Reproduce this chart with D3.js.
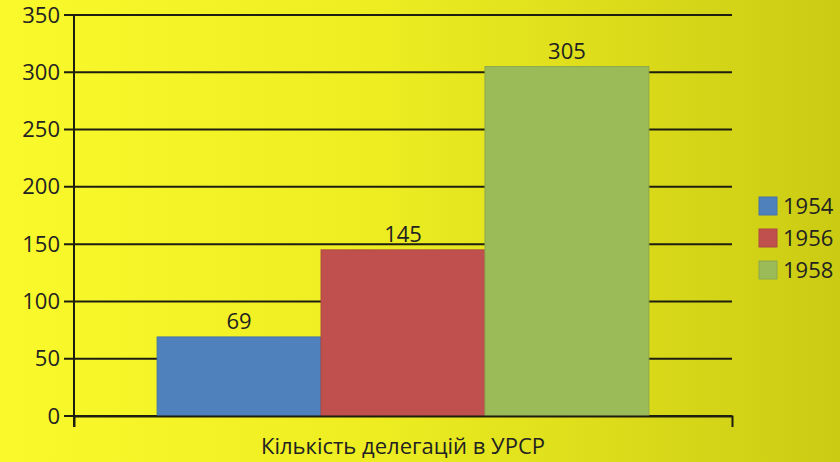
<!DOCTYPE html>
<html>
<head>
<meta charset="utf-8">
<script src="https://cdn.jsdelivr.net/npm/d3@7"></script>
<style>
  body { margin: 0; overflow: hidden; }
  svg text { font-family: "Open Sans", "DejaVu Sans", sans-serif; fill: #222; }
</style>
</head>
<body>
<div id="chart"></div>
<script>
// chart data
var categories = ["Кількість делегацій в УРСР"];
var seriesNames = ["1954", "1956", "1958"];
var seriesValues = [69, 145, 305];
var seriesColors = ["#4f81bd", "#c0504d", "#9bbb59"];
var yTicks = [0, 50, 100, 150, 200, 250, 300, 350];

var width = 840, height = 462;
var margin = { top: 15, right: 108, bottom: 46, left: 74 };
var innerW = width - margin.left - margin.right,
    innerH = height - margin.top - margin.bottom;

var svg = d3.select("#chart").append("svg")
    .attr("width", width)
    .attr("height", height);

// background gradient
var defs = svg.append("defs");
var grad = defs.append("linearGradient")
    .attr("id", "bg")
    .attr("x1", "0%").attr("y1", "0%")
    .attr("x2", "100%").attr("y2", "0%");
grad.append("stop").attr("offset", "0%").attr("stop-color", "#f9f92c");
grad.append("stop").attr("offset", "45%").attr("stop-color", "#eded22");
grad.append("stop").attr("offset", "100%").attr("stop-color", "#cbcb14");

svg.append("rect")
    .attr("width", width)
    .attr("height", height)
    .attr("fill", "url(#bg)");

var g = svg.append("g")
    .attr("transform", "translate(" + margin.left + "," + margin.top + ")");

// scales
var x0 = d3.scaleBand()
    .domain(categories)
    .range([0, innerW])
    .paddingInner(0)
    .paddingOuter(0.169);

var x1 = d3.scaleBand()
    .domain(seriesNames)
    .range([0, x0.bandwidth()])
    .padding(0);

var y = d3.scaleLinear()
    .domain([0, 350])
    .range([innerH, 0]);

// gridlines
g.append("g")
    .attr("class", "grid")
    .selectAll("line")
    .data(yTicks)
    .enter().append("line")
    .attr("x1", -10)
    .attr("x2", innerW)
    .attr("y1", function (d) { return y(d); })
    .attr("y2", function (d) { return y(d); })
    .attr("stroke", "#1e1e10")
    .attr("stroke-width", 2);

// y axis
var yAxis = d3.axisLeft(y)
    .tickValues(yTicks)
    .tickSize(10)
    .tickPadding(4);

var yg = g.append("g").call(yAxis);
yg.select(".domain").remove();
yg.selectAll(".tick line").remove();
yg.selectAll(".tick text")
    .style("font-size", "22px")
    .attr("fill", "#222");

// vertical axis line
g.append("line")
    .attr("x1", 0).attr("x2", 0)
    .attr("y1", 0).attr("y2", innerH + 11)
    .attr("stroke", "#1e1e10")
    .attr("stroke-width", 2);

// bars
var bars = g.selectAll(".bar")
    .data(seriesValues)
    .enter().append("rect")
    .attr("class", "bar")
    .attr("x", function (d, i) { return x0(categories[0]) + x1(seriesNames[i]); })
    .attr("y", function (d) { return y(d); })
    .attr("width", x1.bandwidth())
    .attr("height", function (d) { return innerH - y(d); })
    .attr("fill", function (d, i) { return seriesColors[i]; })
    .attr("stroke", function (d, i) { return d3.color(seriesColors[i]).darker(0.3); })
    .attr("stroke-width", 1);

// value labels
g.selectAll(".val")
    .data(seriesValues)
    .enter().append("text")
    .attr("class", "val")
    .attr("x", function (d, i) { return x0(categories[0]) + x1(seriesNames[i]) + x1.bandwidth() / 2; })
    .attr("y", function (d) { return y(d) - 8; })
    .attr("text-anchor", "middle")
    .style("font-size", "22px")
    .text(function (d) { return d; });

// x axis
var xAxis = d3.axisBottom(x0)
    .tickSizeInner(0)
    .tickSizeOuter(11)
    .tickPadding(22);

var xg = g.append("g")
    .attr("transform", "translate(0," + innerH + ")")
    .call(xAxis);
xg.select(".domain")
    .attr("stroke", "#1e1e10")
    .attr("stroke-width", 2);
xg.selectAll(".tick text")
    .style("font-size", "22px")
    .attr("fill", "#222");

// legend
var legend = svg.append("g")
    .attr("transform", "translate(759,197)");

var item = legend.selectAll(".item")
    .data(seriesNames)
    .enter().append("g")
    .attr("class", "item")
    .attr("transform", function (d, i) { return "translate(0," + i * 32 + ")"; });

item.append("rect")
    .attr("width", 18)
    .attr("height", 18)
    .attr("fill", function (d, i) { return seriesColors[i]; })
    .attr("stroke", function (d, i) { return d3.color(seriesColors[i]).darker(0.3); });

item.append("text")
    .attr("x", 24)
    .attr("y", 9)
    .attr("dy", "0.36em")
    .style("font-size", "22px")
    .text(function (d) { return d; });
</script>
</body>
</html>
